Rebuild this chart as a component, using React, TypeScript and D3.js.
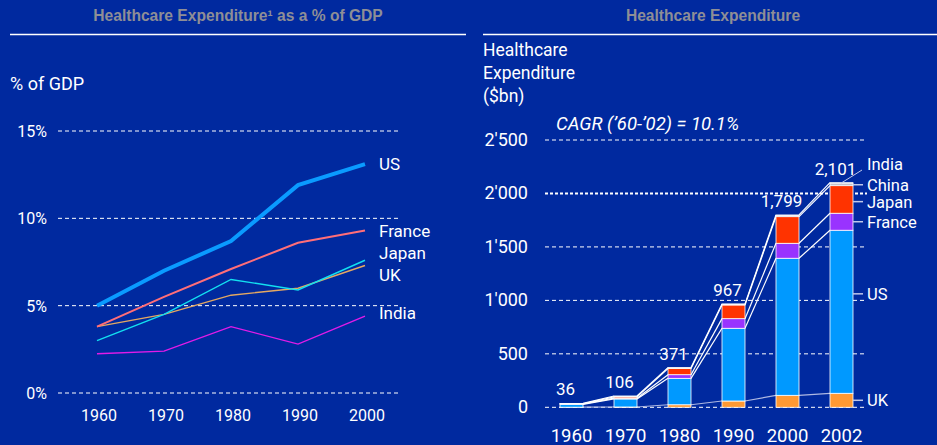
import React from "react";
import * as d3 from "d3";

// left panel: healthcare spend as % of GDP
const years = ["1960", "1970", "1980", "1990", "2000"];
const usShare = [5.0, 7.0, 8.7, 11.9, 13.1];
const franceShare = [3.8, 5.5, 7.1, 8.6, 9.3];
const japanShare = [3.0, 4.5, 6.5, 5.9, 7.6];
const ukShare = [3.8, 4.5, 5.6, 6.0, 7.3];
const indiaShare = [2.25, 2.4, 3.8, 2.8, 4.4];
const shareTicks = [0, 5, 10, 15];

// right panel: healthcare expenditure, $bn
const barYears = ["1960", "1970", "1980", "1990", "2000", "2002"];
const ukSpend = [1, 3, 24, 59, 112, 131];
const usSpend = [27, 75, 247, 680, 1282, 1525];
const franceSpend = [3, 7, 34, 90, 140, 159];
const japanSpend = [2, 12, 58, 128, 249, 258];
const chinaSpend = [2, 5, 5, 6, 10, 17];
const indiaSpend = [1, 4, 3, 4, 6, 11];
const spendTicks = [0, 500, 1000, 1500, 2000, 2500];

const BG = "#00299F";
const FONT = "Roboto, 'Noto Sans', sans-serif";
const TITLE_FONT = "'Liberation Sans', Arial, sans-serif";

const lineSeries = [
  { name: "US", values: usShare, color: "#0A9BFF", width: 4 },
  { name: "France", values: franceShare, color: "#FF6E78", width: 2 },
  { name: "Japan", values: japanShare, color: "#12E0F0", width: 1.4 },
  { name: "UK", values: ukShare, color: "#E4A862", width: 1.4 },
  { name: "India", values: indiaShare, color: "#E21BE8", width: 1.4 },
];
const lineLabelY = { US: 164, France: 231, Japan: 253, UK: 275, India: 313 };

const stackKeys = ["UK", "US", "France", "Japan", "China", "India"];
const stackColors = {
  UK: "#FF9933",
  US: "#0099FF",
  France: "#9933FF",
  Japan: "#FF3300",
  China: "#9A9AAA",
  India: "#C8C8C8",
};
// where along each segment of the last bar the label tick sits
const labelFrac = { UK: 0.5, US: 0.61, France: 0.5, Japan: 0.42, China: 0.5, India: 0.5 };

function LeftChart() {
  const x = d3.scalePoint().domain(years).range([97, 365]);
  const y = d3.scaleLinear().domain([0, 15]).range([393, 131]);
  const line = d3
    .line<number>()
    .x((d, i) => x(years[i]) as number)
    .y((d) => y(d));

  return (
    <g fontFamily={FONT}>
      <text x={238} y={21} textAnchor="middle" fill="#8E8E96" fontFamily={TITLE_FONT} fontWeight="bold" fontSize={15.6}>
        Healthcare Expenditure¹ as a % of GDP
      </text>
      <line x1={10} x2={466} y1={34.5} y2={34.5} stroke="#fff" strokeWidth={1.5} />
      <text x={10} y={90} fill="#fff" fontSize={18}>% of GDP</text>

      {shareTicks.map((t) => (
        <g key={t}>
          <line x1={58} x2={400} y1={y(t)} y2={y(t)} stroke="#fff" strokeDasharray="4,3" strokeWidth={1} />
          <text x={47} y={y(t) + 6} textAnchor="end" fill="#fff" fontSize={16}>
            {t}%
          </text>
        </g>
      ))}
      {years.map((yr) => (
        <text key={yr} x={(x(yr) as number) + 2} y={421} textAnchor="middle" fill="#fff" fontSize={16}>
          {yr}
        </text>
      ))}

      {lineSeries
        .slice()
        .reverse()
        .map((s) => (
          <path key={s.name} d={line(s.values) || ""} fill="none" stroke={s.color} strokeWidth={s.width} />
        ))}
      {lineSeries.map((s) => (
        <text key={s.name} x={379} y={lineLabelY[s.name] + 6} fill="#fff" fontSize={17}>
          {s.name}
        </text>
      ))}
    </g>
  );
}

function RightChart() {
  const rows = barYears.map((yr, i) => ({
    year: yr,
    UK: ukSpend[i],
    US: usSpend[i],
    France: franceSpend[i],
    Japan: japanSpend[i],
    China: chinaSpend[i],
    India: indiaSpend[i],
  }));
  const stacked = d3.stack<any>().keys(stackKeys)(rows);
  const x = d3.scaleBand().domain(barYears).range([560, 853]).paddingInner(0.574).paddingOuter(0);
  const y = d3.scaleLinear().domain([0, 2500]).range([407.3, 140]);
  const bw = x.bandwidth();
  const tickFmt = (v: number) => d3.format(",")(v).replace(",", "'");
  const totals = rows.map((r) => stackKeys.reduce((s, k) => s + r[k], 0));

  const connectorKeys = ["UK", "US", "France", "Japan", "India"];
  const last = barYears.length - 1;
  const lastX = (x(barYears[last]) as number) + bw;

  return (
    <g fontFamily={FONT}>
      <text x={713} y={21} textAnchor="middle" fill="#8E8E96" fontFamily={TITLE_FONT} fontWeight="bold" fontSize={15.6}>
        Healthcare Expenditure
      </text>
      <line x1={483} x2={937} y1={34.5} y2={34.5} stroke="#fff" strokeWidth={1.5} />
      {["Healthcare", "Expenditure", "($bn)"].map((t, i) => (
        <text key={t} x={483} y={56 + i * 23} fill="#fff" fontSize={17.5}>
          {t}
        </text>
      ))}
      <text x={556} y={130} fill="#fff" fontSize={18.5} fontStyle="italic">
        CAGR (’60-’02) = 10.1%
      </text>

      {spendTicks.map((t) => (
        <g key={t}>
          <line
            x1={545}
            x2={867}
            y1={y(t)}
            y2={y(t)}
            stroke="#fff"
            strokeDasharray={t === 2000 ? "3,2" : "4,3"}
            strokeWidth={t === 2000 ? 2 : 1}
          />
          <text x={528} y={y(t) + 6} textAnchor="end" fill="#fff" fontSize={18}>
            {tickFmt(t)}
          </text>
        </g>
      ))}

      {/* connectors between bars */}
      {connectorKeys.map((k) => {
        const layer = stacked.find((l) => l.key === k)!;
        return barYears.slice(0, -1).map((yr, i) => (
          <line
            key={k + yr}
            x1={(x(yr) as number) + bw}
            x2={x(barYears[i + 1]) as number}
            y1={y(layer[i][1])}
            y2={y(layer[i + 1][1])}
            stroke={k === "UK" ? "#AEB8E2" : "#fff"}
            strokeWidth={1.2}
          />
        ));
      })}

      {stacked.map((layer) =>
        layer.map((d, i) => (
          <rect
            key={layer.key + i}
            x={x(barYears[i])}
            width={bw}
            y={y(d[1])}
            height={Math.max(0, y(d[0]) - y(d[1]))}
            fill={stackColors[layer.key]}
            stroke="#fff"
            strokeWidth={0.8}
          />
        ))
      )}

      {totals.map((t, i) => (
        <text
          key={barYears[i]}
          x={(x(barYears[i]) as number) + bw / 2 - 6}
          y={y(t) - 8}
          textAnchor="middle"
          fill="#fff"
          fontSize={17}
        >
          {d3.format(",")(t)}
        </text>
      ))}

      {barYears.map((yr) => (
        <text key={yr} x={(x(yr) as number) + bw / 2} y={441.5} textAnchor="middle" fill="#fff" fontSize={18.5}>
          {yr}
        </text>
      ))}

      {/* series labels next to the last bar */}
      {stacked.map((layer) => {
        const d = layer[last];
        const k = layer.key;
        if (k === "India") {
          return (
            <g key={k}>
              <line x1={lastX - 12} x2={lastX + 9} y1={y(d[1]) + 0.5} y2={170} stroke="#C0C8EA" strokeWidth={1} />
              <text x={867} y={170} fill="#fff" fontSize={16.5}>{k}</text>
            </g>
          );
        }
        const ty = y(d[0] + (d[1] - d[0]) * labelFrac[k]);
        return (
          <g key={k}>
            <line x1={lastX} x2={lastX + 10} y1={ty} y2={ty} stroke="#C0C8EA" strokeWidth={1.5} />
            <text x={867} y={ty + 6} fill="#fff" fontSize={16.5}>{k}</text>
          </g>
        );
      })}
    </g>
  );
}

export default function App() {
  return (
    <svg
      width={937}
      height={445}
      style={{ position: "absolute", left: 0, top: 0, display: "block", background: BG }}
    >
      <rect width={937} height={445} fill={BG} />
      <LeftChart />
      <RightChart />
    </svg>
  );
}
